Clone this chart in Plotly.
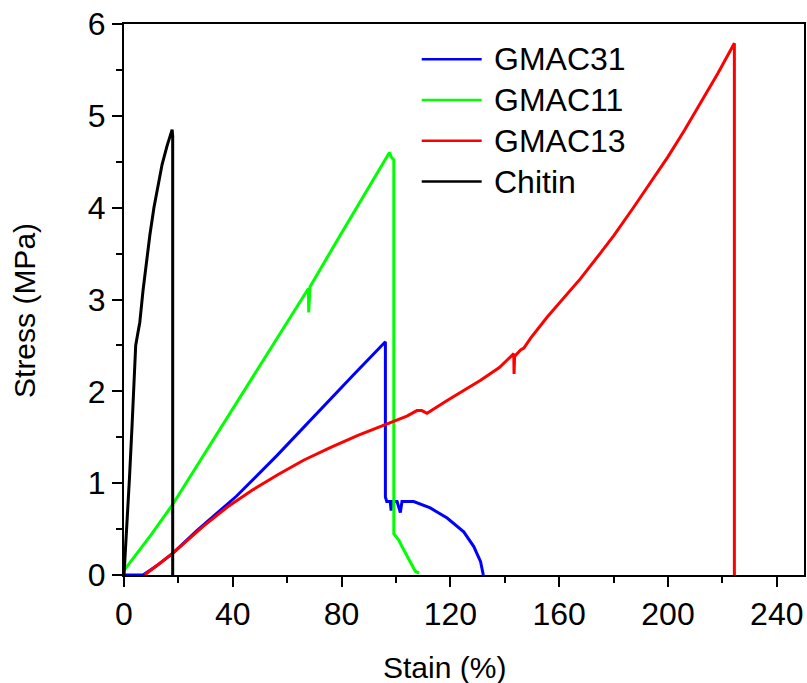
import plotly.graph_objects as go

# ---- data ----
names = ["GMAC31", "GMAC11", "GMAC13", "Chitin"]
colors = ["#0000FF", "#00FF00", "#FF0000", "#000000"]

gmac31_x = [0, 7.0, 12, 18.1, 26.7, 41.4, 56.2, 72.1, 84.4, 96.1, 96.1, 96.6, 97.9, 98.2, 98.5,
            100.4, 101.6, 102.2, 106.5, 112.6, 118.8, 124.9, 128.6, 131.1, 132.1]
gmac31_y = [0, 0, 0.1, 0.24, 0.48, 0.86, 1.30, 1.80, 2.18, 2.54, 0.85, 0.80, 0.80, 0.70, 0.80,
            0.80, 0.68, 0.80, 0.80, 0.73, 0.62, 0.47, 0.31, 0.145, 0.0]

gmac11_x = [0, 5, 10, 17.7, 27.9, 41.4, 53.7, 65.4, 67.8, 67.9, 68.2, 68.4, 79.5, 91.7, 97.6,
            98.3, 99.2, 99.2, 101.0, 102.2, 103.4, 105.3, 107.1, 108.5]
gmac11_y = [0.05, 0.24, 0.44, 0.76, 1.24, 1.88, 2.46, 3.0, 3.12, 2.86, 3.08, 3.14, 3.70, 4.30, 4.60,
            4.55, 4.52, 0.45, 0.38, 0.31, 0.24, 0.13, 0.04, 0.02]

gmac13_x = [7.6, 18.1, 29.1, 38.0, 47.5, 57.0, 66.0, 76.0, 86.0, 99.1, 104, 107.7, 109.5, 111.4,
            118.8, 131.1, 138, 143.3, 143.4, 143.6, 145.8, 147.0, 149.5, 155.6, 161.5, 167.9,
            175.0, 180.2, 187.5, 193.5, 199.9, 206, 212.1, 218.3, 224.4, 224.4]
gmac13_y = [0, 0.24, 0.53, 0.74, 0.93, 1.10, 1.25, 1.39, 1.52, 1.67, 1.73, 1.79, 1.79, 1.76,
            1.90, 2.12, 2.26, 2.41, 2.19, 2.38, 2.45, 2.47, 2.58, 2.81, 3.01, 3.23,
            3.50, 3.70, 4.01, 4.27, 4.55, 4.84, 5.14, 5.46, 5.79, 0]

chitin_x = [0, 1, 2, 3, 3.6, 4.3, 5.0, 5.8, 7.0, 8.2, 9.5, 11.0, 12.5, 14.0, 15.8, 17.7, 17.9, 17.9]
chitin_y = [0, 0.5, 1.05, 1.65, 2.0, 2.5, 2.62, 2.75, 3.1, 3.4, 3.7, 4.0, 4.25, 4.47, 4.67, 4.85, 4.78, 0]

series_x = [gmac31_x, gmac11_x, gmac13_x, chitin_x]
series_y = [gmac31_y, gmac11_y, gmac13_y, chitin_y]

x_title = "Stain (%)"
y_title = "Stress (MPa)"

FONT = "Liberation Sans, Arial, sans-serif"

fig = go.Figure()
for n, c, xs, ys in zip(names, colors, series_x, series_y):
    fig.add_trace(go.Scatter(x=xs, y=ys, mode="lines", name=n,
                             line=dict(color=c, width=3), showlegend=False))

# custom legend (long line samples as in the reference)
leg_y = [0.936, 0.862, 0.788, 0.714]
for n, c, ly in zip(names, colors, leg_y):
    fig.add_shape(type="line", xref="paper", yref="paper", x0=0.4378, x1=0.526, y0=ly, y1=ly,
                  line=dict(color=c, width=2.5))
    fig.add_annotation(text=n, xref="paper", yref="paper", x=0.541, y=ly, xanchor="left",
                       yanchor="middle", showarrow=False, font=dict(size=32, color="black", family=FONT))

fig.add_annotation(text=x_title, xref="paper", yref="paper", x=0.472, y=-0.167, xanchor="center",
                   yanchor="middle", showarrow=False, font=dict(size=30, color="black", family=FONT))
fig.add_annotation(text=y_title, xref="paper", yref="paper", x=-0.1456, y=0.481, xanchor="center",
                   yanchor="middle", textangle=-90, showarrow=False,
                   font=dict(size=30, color="black", family=FONT))

axis_common = dict(showgrid=False, zeroline=False, showline=True, linecolor="black", linewidth=2,
                   mirror=True, ticks="outside", tickwidth=2, ticklen=10, tickcolor="black",
                   automargin=False,
                   tickfont=dict(size=32, color="black", family=FONT))

fig.update_xaxes(range=[0, 250], tick0=0, dtick=40,
                 minor=dict(dtick=20, ticks="outside", ticklen=6, tickwidth=2, tickcolor="black"),
                 **axis_common)
fig.update_yaxes(range=[0, 6], tick0=0, dtick=1,
                 minor=dict(dtick=0.5, ticks="outside", ticklen=6, tickwidth=2, tickcolor="black"),
                 **axis_common)

fig.update_layout(width=807, height=683, margin=dict(l=124, r=3, t=24, b=108),
                  plot_bgcolor="white", paper_bgcolor="white",
                  font=dict(family=FONT, color="black"))

fig.write_html("out.html", config={"displayModeBar": False},
               post_script="document.body.style.margin='0';document.body.style.padding='0';"
                           "document.body.style.overflow='hidden';")
